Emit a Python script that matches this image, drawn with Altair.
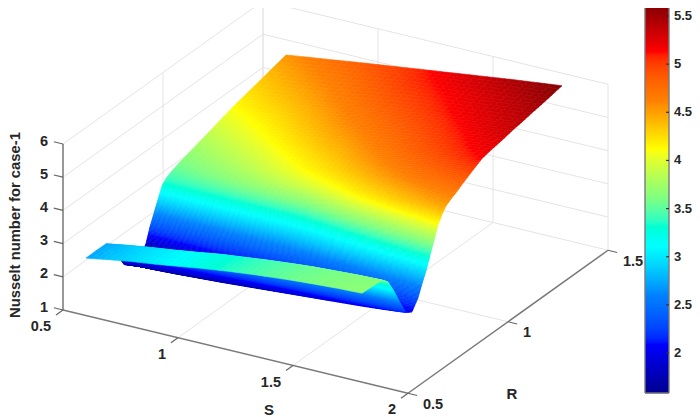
import math
import altair as alt
import pandas as pd

W, H = 684, 409
S_VALUES = [0.6, 0.7, 0.8, 0.9, 1.0, 1.1, 1.2, 1.3, 1.4, 1.5, 1.6, 1.7, 1.8]
R_VALUES = [0.50, 0.55, 0.60, 0.63, 0.66, 0.69, 0.72, 0.75, 0.78, 0.80, 0.82, 0.84, 0.86, 0.88, 0.90,
            0.92, 0.94, 0.97, 1.00, 1.05, 1.10, 1.15, 1.20, 1.25, 1.30, 1.35, 1.40, 1.45, 1.50]
NU = [
    [2.73, 2.85, 2.96, 3.05, 3.15, 3.26, 3.35, 3.43, 3.50, 3.56, 3.61, 3.65, 3.68],
    [2.74, 2.86, 2.96, 3.05, 3.15, 3.26, 3.35, 3.43, 3.50, 3.56, 3.60, 3.64, 3.66],
    [2.73, 2.85, 2.95, 3.04, 3.14, 3.25, 3.33, 3.41, 3.48, 3.54, 3.58, 3.62, 3.64],
    [2.50, 2.62, 2.72, 2.82, 2.92, 3.02, 3.10, 3.18, 3.26, 3.33, 3.38, 3.42, 3.46],
    [2.10, 2.20, 2.30, 2.40, 2.50, 2.60, 2.68, 2.75, 2.82, 2.90, 2.95, 3.00, 3.05],
    [1.72, 1.80, 1.88, 1.96, 2.04, 2.12, 2.20, 2.28, 2.35, 2.42, 2.48, 2.54, 2.58],
    [1.60, 1.61, 1.64, 1.68, 1.72, 1.77, 1.82, 1.87, 1.92, 1.97, 2.02, 2.08, 2.15],
    [1.60, 1.61, 1.63, 1.65, 1.68, 1.72, 1.76, 1.80, 1.85, 1.90, 1.94, 1.98, 2.04],
    [1.68, 1.70, 1.74, 1.78, 1.83, 1.89, 1.97, 2.02, 2.08, 2.14, 2.20, 2.26, 2.33],
    [1.88, 1.92, 1.96, 2.01, 2.07, 2.13, 2.20, 2.27, 2.34, 2.42, 2.50, 2.58, 2.67],
    [2.30, 2.30, 2.31, 2.33, 2.36, 2.40, 2.45, 2.52, 2.60, 2.69, 2.78, 2.87, 2.97],
    [2.62, 2.62, 2.63, 2.65, 2.67, 2.70, 2.74, 2.82, 2.92, 3.02, 3.13, 3.24, 3.35],
    [2.95, 2.95, 2.95, 2.96, 2.97, 2.98, 3.00, 3.10, 3.22, 3.35, 3.48, 3.60, 3.72],
    [3.26, 3.26, 3.26, 3.26, 3.27, 3.27, 3.28, 3.40, 3.56, 3.70, 3.84, 3.97, 4.10],
    [3.40, 3.42, 3.44, 3.47, 3.50, 3.52, 3.55, 3.70, 3.90, 4.02, 4.14, 4.24, 4.33],
    [3.47, 3.51, 3.55, 3.60, 3.66, 3.72, 3.78, 3.96, 4.12, 4.22, 4.32, 4.42, 4.50],
    [3.53, 3.58, 3.64, 3.71, 3.79, 3.88, 3.98, 4.08, 4.22, 4.32, 4.42, 4.51, 4.58],
    [3.60, 3.66, 3.73, 3.82, 3.92, 4.02, 4.12, 4.23, 4.34, 4.45, 4.55, 4.62, 4.68],
    [3.66, 3.73, 3.81, 3.90, 4.01, 4.12, 4.22, 4.33, 4.45, 4.56, 4.67, 4.74, 4.80],
    [3.75, 3.83, 3.92, 4.02, 4.13, 4.24, 4.34, 4.47, 4.59, 4.71, 4.82, 4.90, 4.98],
    [3.85, 3.94, 4.03, 4.13, 4.24, 4.35, 4.45, 4.58, 4.70, 4.82, 4.93, 5.04, 5.15],
    [3.95, 4.04, 4.13, 4.23, 4.34, 4.45, 4.56, 4.68, 4.80, 4.91, 5.02, 5.13, 5.22],
    [4.05, 4.13, 4.22, 4.32, 4.43, 4.55, 4.66, 4.77, 4.88, 4.99, 5.09, 5.19, 5.27],
    [4.14, 4.23, 4.31, 4.41, 4.52, 4.64, 4.75, 4.86, 4.96, 5.06, 5.16, 5.25, 5.34],
    [4.22, 4.31, 4.40, 4.50, 4.61, 4.73, 4.84, 4.94, 5.04, 5.13, 5.22, 5.30, 5.39],
    [4.30, 4.39, 4.48, 4.58, 4.69, 4.81, 4.92, 5.01, 5.10, 5.19, 5.28, 5.36, 5.45],
    [4.38, 4.47, 4.57, 4.66, 4.77, 4.89, 5.00, 5.08, 5.16, 5.24, 5.32, 5.41, 5.50],
    [4.46, 4.55, 4.65, 4.74, 4.85, 4.96, 5.06, 5.14, 5.23, 5.31, 5.39, 5.48, 5.56],
    [4.54, 4.64, 4.73, 4.83, 4.92, 5.01, 5.10, 5.19, 5.28, 5.37, 5.46, 5.54, 5.62],
]
S_TICKS = [0.5, 1.0, 1.5, 2.0]
S_LABELS = ["0.5", "1", "1.5", "2"]
R_TICKS = [0.5, 1.0, 1.5]
R_LABELS = ["0.5", "1", "1.5"]
Z_TICKS = [1, 2, 3, 4, 5, 6]
CBAR_TICKS = [2.0, 2.5, 3.0, 3.5, 4.0, 4.5, 5.0, 5.5]
CBAR_LABELS = ["2", "2.5", "3", "3.5", "4", "4.5", "5", "5.5"]
CBAR_DOMAIN = [1.585, 5.635]
JET = ["#00008f", "#0000ff", "#0080ff", "#00ffff", "#80ff80", "#ffff00", "#ff8000", "#ff0000", "#800000"]
TEXT = "#262626"
FONT = "Liberation Sans"
CB_LEFT, CB_RIGHT, CB_TOP, CB_BOTTOM = 637, 661, -5, 385


def proj(s, r, z):
    """Fixed 3-D view of the box, returned in chart pixels."""
    x = 55 + (s - 0.5) * 230 + (r - 0.5) * 200
    y = 302 + (s - 0.5) * 55.5 - (r - 0.5) * 143 - (z - 1) * 33.2
    return x, y


# ---- surface, far to near so nearer sheets cover farther ones.
# NU holds the read-off grid; each grid cell is only shaded smoothly (like the
# original's interpolated shading) by splitting it into thin facets.
def patch(i, j, u, v):
    a = NU[j][i] * (1 - u) + NU[j][i + 1] * u
    b = NU[j + 1][i] * (1 - u) + NU[j + 1][i + 1] * u
    s = S_VALUES[i] + (S_VALUES[i + 1] - S_VALUES[i]) * u
    r = R_VALUES[j] + (R_VALUES[j + 1] - R_VALUES[j]) * v
    return s, r, a * (1 - v) + b * v


NU_SPLIT = 4
features = []
for j in range(len(R_VALUES) - 2, -1, -1):
    steep = max(abs(NU[j + 1][i] - NU[j][i]) for i in range(len(S_VALUES)))
    nv = max(1, math.ceil(steep / 0.03))
    for m in range(nv - 1, -1, -1):
        for i in range(len(S_VALUES) - 1):
            for n in range(NU_SPLIT):
                u0, u1 = n / NU_SPLIT, (n + 1) / NU_SPLIT
                v0, v1 = m / nv, (m + 1) / nv
                ring = [list(proj(*patch(i, j, u, v))) for u, v in
                        [(u0, v0), (u1, v0), (u1, v1), (u0, v1), (u0, v0)]]
                features.append({
                    "type": "Feature",
                    "geometry": {"type": "Polygon", "coordinates": [ring]},
                    "properties": {"z": patch(i, j, (u0 + u1) / 2, (v0 + v1) / 2)[2]},
                })

jet_scale = alt.Scale(domain=CBAR_DOMAIN, range=JET, clamp=True)
surface = alt.Chart(alt.Data(values=features)).mark_geoshape(strokeWidth=0.6).encode(
    color=alt.Color("properties.z:Q", scale=jet_scale, legend=None),
    stroke=alt.Stroke("properties.z:Q", scale=jet_scale, legend=None),
).project(type="identity", scale=1, translate=[0, 0])


def seg(a, b):
    x, y = proj(*a)
    x2, y2 = proj(*b)
    return {"x": x, "y": y, "x2": x2, "y2": y2}


grid, axes, ticks = [], [], []
for z in Z_TICKS[1:]:
    grid.append(seg((0.5, 0.5, z), (0.5, 1.5, z)))
    grid.append(seg((0.5, 1.5, z), (2.0, 1.5, z)))
for s in S_TICKS:
    grid.append(seg((s, 1.5, 1), (s, 1.5, 6)))
    if s > 0.5:
        grid.append(seg((s, 0.5, 1), (s, 1.5, 1)))
for r in R_TICKS:
    grid.append(seg((0.5, r, 1), (0.5, r, 6)))
    if r > 0.5:
        grid.append(seg((0.5, r, 1), (2.0, r, 1)))

axes.append(seg((0.5, 0.5, 1), (2.0, 0.5, 1)))
axes.append(seg((2.0, 0.5, 1), (2.0, 1.5, 1)))
axes.append(seg((0.5, 0.5, 1), (0.5, 0.5, 6)))
for s in S_TICKS:
    ticks.append(seg((s, 0.5, 1), (s, 0.465, 1)))
for r in R_TICKS:
    ticks.append(seg((2.0, r, 1), (2.04, r, 1)))
for z in Z_TICKS:
    ticks.append(seg((0.5, 0.5, z), (0.46, 0.5, z)))


def cb_y(v):
    return CB_TOP + (CBAR_DOMAIN[1] - v) / (CBAR_DOMAIN[1] - CBAR_DOMAIN[0]) * (CB_BOTTOM - CB_TOP)


cb_ticks = [{"x": CB_RIGHT - 3, "x2": CB_RIGHT, "y": cb_y(v), "y2": cb_y(v)} for v in CBAR_TICKS]
frame = [
    {"x": CB_LEFT, "x2": CB_RIGHT, "y": CB_TOP, "y2": CB_TOP},
    {"x": CB_LEFT, "x2": CB_RIGHT, "y": CB_BOTTOM, "y2": CB_BOTTOM},
    {"x": CB_LEFT, "x2": CB_LEFT, "y": CB_TOP, "y2": CB_BOTTOM},
    {"x": CB_RIGHT, "x2": CB_RIGHT, "y": CB_TOP, "y2": CB_BOTTOM},
]

xs = alt.Scale(domain=[0, W], range=[0, W])
ys = alt.Scale(domain=[0, H], range=[0, H])


def rules(rows, color, width):
    return alt.Chart(pd.DataFrame(rows)).mark_rule(color=color, strokeWidth=width).encode(
        x=alt.X("x:Q", scale=xs, axis=None), x2="x2:Q",
        y=alt.Y("y:Q", scale=ys, axis=None), y2="y2:Q",
    )


# ---- colourbar: one thin rect per pixel row, coloured by the same scale
strip_n = CB_BOTTOM - CB_TOP
strip = pd.DataFrame([
    {
        "x": CB_LEFT, "x2": CB_RIGHT, "y": CB_TOP + k, "y2": CB_TOP + k + 1.3,
        "v": CBAR_DOMAIN[1] - (k + 0.5) / strip_n * (CBAR_DOMAIN[1] - CBAR_DOMAIN[0]),
    }
    for k in range(strip_n)
])
colourbar = alt.Chart(strip).mark_rect().encode(
    x=alt.X("x:Q", scale=xs, axis=None), x2="x2:Q",
    y=alt.Y("y:Q", scale=ys, axis=None), y2="y2:Q",
    color=alt.Color("v:Q", scale=jet_scale, legend=None),
)


# ---- texts, placed relative to the projected tick they belong to
def texts(rows, align="center", angle=0, size=14.5):
    return alt.Chart(pd.DataFrame(rows)).mark_text(
        font=FONT, fontWeight="bold", color=TEXT, align=align, baseline="middle",
        fontSize=size, angle=angle,
    ).encode(
        x=alt.X("x:Q", scale=xs, axis=None),
        y=alt.Y("y:Q", scale=ys, axis=None),
        text="t:N",
    )


s_rows, r_rows, z_rows, c_rows = [], [], [], []
for s, t in zip(S_TICKS, S_LABELS):
    x, y = proj(s, 0.5, 1)
    s_rows.append({"x": x - 12, "y": y + 17, "t": t})
for r, t in zip(R_TICKS, R_LABELS):
    x, y = proj(2.0, r, 1)
    r_rows.append({"x": x + 15, "y": y + 11.5, "t": t})
for z in Z_TICKS:
    x, y = proj(0.5, 0.5, z)
    z_rows.append({"x": x - 19, "y": y - 2.5, "t": str(z)})
for v, t in zip(CBAR_TICKS, CBAR_LABELS):
    c_rows.append({"x": CB_RIGHT + 5, "y": cb_y(v), "t": t})

sx, sy = proj(1.25, 0.5, 1)
rx, ry = proj(2.0, 1.0, 1)

chart = alt.layer(
    rules(grid, "#e4e4e4", 1),
    rules(axes, "#7a7a7a", 1.5),
    rules(ticks, "#666666", 1.2),
    surface,
    colourbar,
    rules(frame, "#7a7a7a", 1.4),
    rules(cb_ticks, "#333333", 1.2),
    texts(s_rows, align="right"),
    texts(r_rows, align="left"),
    texts(z_rows),
    texts(c_rows, align="left", size=13),
    texts([{"x": sx + 33.5, "y": sy + 58.5, "t": "S"}], size=15),
    texts([{"x": rx + 4, "y": ry + 72.5, "t": "R"}], size=15),
    texts([{"x": 8, "y": 217, "t": "Nusselt number for case-1"}], angle=270, size=14.8),
).resolve_scale(x="shared", y="shared").properties(
    width=W, height=H, padding=0, autosize=alt.AutoSizeParams(type="none"), background="white",
).configure_view(stroke=None)

chart.save("out.html", embed_options={"renderer": "svg", "actions": False})
